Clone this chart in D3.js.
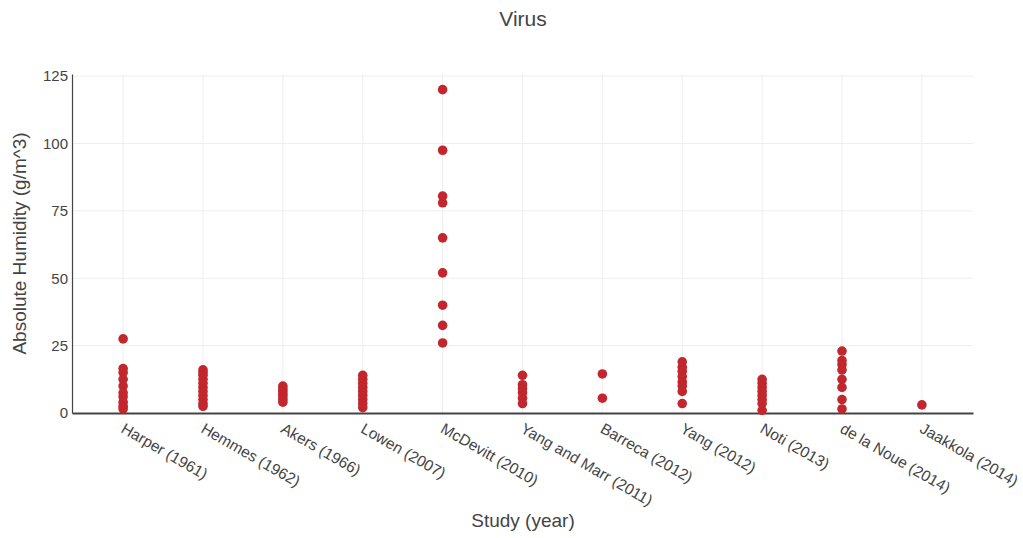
<!DOCTYPE html>
<html><head><meta charset="utf-8">
<script src="https://cdn.jsdelivr.net/npm/d3@7"></script>
<style>body{margin:0;background:#fff;} text{font-family:"Liberation Sans",Arial,sans-serif;fill:#444;}</style>
</head><body>
<svg id="c" width="1023" height="538"></svg>
<script>
const categories = ["Harper (1961)","Hemmes (1962)","Akers (1966)","Lowen (2007)","McDevitt (2010)","Yang and Marr (2011)","Barreca (2012)","Yang (2012)","Noti (2013)","de la Noue (2014)","Jaakkola (2014)"];
const harper = [27.5, 16.5, 15, 12.5, 10, 7.5, 6, 4, 2.5, 1.5];
const hemmes = [16, 15, 14, 12.5, 11, 9.5, 8, 6.5, 5, 3.5, 2.5];
const akers = [10, 9, 8, 7, 6, 5, 4];
const lowen = [14, 12.5, 11, 9.5, 8, 6.5, 5, 3.5, 2];
const mcdevitt = [120, 97.5, 80.5, 78, 65, 52, 40, 32.5, 26];
const yangMarr = [14, 10.5, 9, 7.5, 5.5, 3.5];
const barreca = [14.5, 5.5];
const yang = [19, 17, 15.5, 13.5, 11.5, 10, 8, 3.5];
const noti = [12.5, 11, 9.5, 8, 6.5, 5, 3.5, 1];
const delaNoue = [23, 19.5, 18, 16, 12.5, 9.5, 5, 1.5];
const jaakkola = [3];
const yTicks = [0, 25, 50, 75, 100, 125];

const seriesValues = [harper, hemmes, akers, lowen, mcdevitt, yangMarr, barreca, yang, noti, delaNoue, jaakkola];
const points = [];
seriesValues.forEach((vals, i) => vals.forEach(v => points.push({i, v})));

const svg = d3.select("#c");
const L = 72, R = 973, T = 74, B = 413;
const x = d3.scaleLinear().domain([-0.64, categories.length - 1 + 0.64]).range([L, R]);
const y = d3.scaleLinear().domain([0, 125.8]).range([B, T]);

// gridlines
svg.append("g").selectAll("line").data(yTicks.filter(d => d > 0)).join("line")
  .attr("x1", L).attr("x2", R).attr("y1", d => y(d)).attr("y2", d => y(d))
  .attr("stroke", "#eee").attr("stroke-width", 1);
svg.append("g").selectAll("line").data(categories).join("line")
  .attr("x1", (d, i) => x(i)).attr("x2", (d, i) => x(i)).attr("y1", T).attr("y2", B)
  .attr("stroke", "#eee").attr("stroke-width", 1);

// axes
const yAxis = d3.axisLeft(y).tickValues(yTicks).tickSize(0).tickPadding(4);
const gy = svg.append("g").attr("transform", `translate(${L},0)`).call(yAxis);
gy.select(".domain").attr("stroke", "#444").attr("stroke-width", 1.2);
gy.selectAll("text").style("font-size", "15px").attr("fill", "#444");

const xAxis = d3.axisBottom(x).tickValues(d3.range(categories.length)).tickFormat(i => categories[i]).tickSize(0);
const gx = svg.append("g").attr("transform", `translate(0,${B})`).call(xAxis);
gx.select(".domain").attr("stroke", "#444").attr("stroke-width", 1.8);
gx.selectAll("text").style("font-size", "15.5px").attr("fill", "#444")
  .attr("text-anchor", "start").attr("y", 0).attr("x", 0).attr("dy", "0.72em")
  .attr("transform", "translate(2,9) rotate(30)");

// points
svg.append("g").selectAll("circle").data(points).join("circle")
  .attr("cx", d => x(d.i)).attr("cy", d => y(d.v)).attr("r", 4.8)
  .attr("fill", "#c1272d");

// titles
svg.append("text").attr("x", 523).attr("y", 26).attr("text-anchor", "middle")
  .style("font-size", "21px").text("Virus");
svg.append("text").attr("x", 523).attr("y", 527).attr("text-anchor", "middle")
  .style("font-size", "19px").text("Study (year)");
svg.append("text").attr("transform", `translate(26,${(T + B) / 2}) rotate(-90)`)
  .attr("text-anchor", "middle").style("font-size", "19px").text("Absolute Humidity (g/m^3)");
</script>
</body></html>
